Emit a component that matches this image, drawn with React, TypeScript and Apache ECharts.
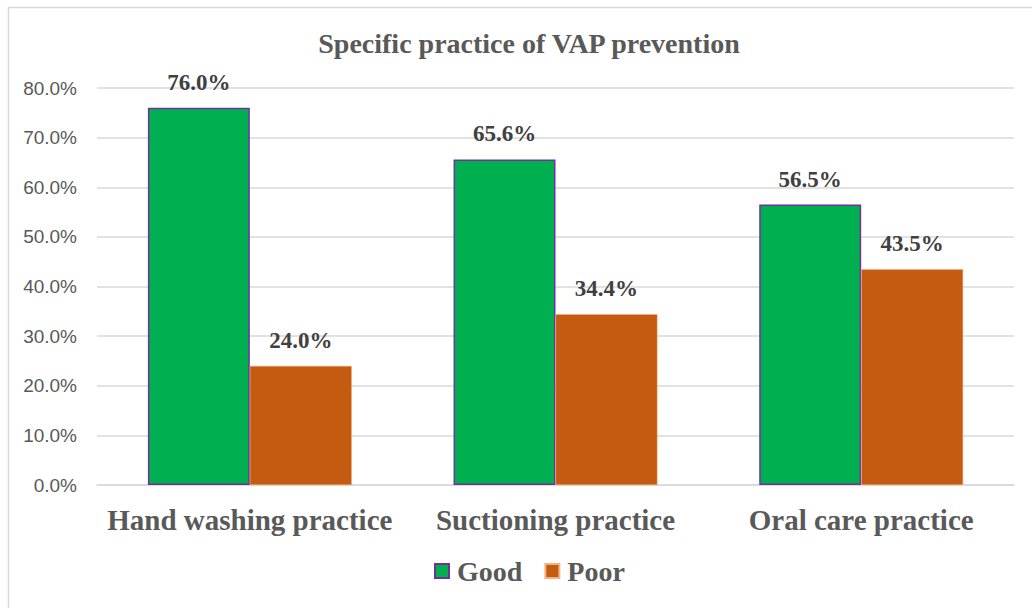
import React, { useEffect, useRef } from "react";
import * as echarts from "echarts";

const categories = ["Hand washing practice", "Suctioning practice", "Oral care practice"];
const goodValues = [76.0, 65.6, 56.5];
const poorValues = [24.0, 34.4, 43.5];
const seriesNames = ["Good", "Poor"];
const titleText = "Specific practice of VAP prevention";

export default function App() {
  const ref = useRef<HTMLDivElement>(null);
  useEffect(() => {
    const chart = echarts.init(ref.current!, null, { renderer: "svg" });
    const serif = "'Liberation Serif', 'Times New Roman', serif";
    const labelStyle = {
      show: true,
      position: "top",
      distance: 14,
      fontFamily: serif,
      fontWeight: "bold",
      fontSize: 23,
      color: "#404040",
      formatter: (p: any) => p.value.toFixed(1) + "%",
    };
    chart.setOption({
      animation: false,
      backgroundColor: "#ffffff",
      graphic: [
        {
          type: "rect",
          shape: { x: 8.5, y: 7.5, width: 1040, height: 620 },
          style: { fill: "none", stroke: "#d9d9d9", lineWidth: 1.5 },
          silent: true,
        },
      ],
      title: {
        text: titleText,
        left: 524,
        textAlign: "center",
        top: 24,
        textStyle: { fontFamily: serif, fontWeight: "bold", fontSize: 28, color: "#595959" },
      },
      legend: {
        data: seriesNames,
        bottom: 18,
        left: 429,
        itemWidth: 14,
        itemHeight: 14,
        itemGap: 22,
        icon: "rect",
        textStyle: {
          fontFamily: serif,
          fontWeight: "bold",
          fontSize: 28,
          color: "#595959",
          padding: [0, 0, 0, 3],
        },
      },
      grid: { left: 97, right: 18, top: 88, bottom: 123, containLabel: false },
      xAxis: {
        type: "category",
        data: categories,
        axisTick: { show: false },
        axisLine: { show: true, lineStyle: { color: "#d9d9d9", width: 1.5 } },
        axisLabel: {
          interval: 0,
          hideOverlap: false,
          margin: 20,
          fontFamily: serif,
          fontWeight: "bold",
          fontSize: 29,
          color: "#595959",
        },
      },
      yAxis: {
        type: "value",
        min: 0,
        max: 80,
        interval: 10,
        axisLine: { show: false },
        axisTick: { show: false },
        splitLine: { lineStyle: { color: "#d9d9d9", width: 1.5 } },
        axisLabel: {
          margin: 20,
          fontFamily: "'Liberation Sans', Arial, sans-serif",
          fontSize: 19,
          color: "#595959",
          formatter: (v: number) => v.toFixed(1) + "%",
        },
      },
      series: [
        {
          name: seriesNames[0],
          type: "bar",
          data: goodValues,
          barGap: "0%",
          barCategoryGap: "33.3%",
          itemStyle: { color: "#00B050", borderColor: "#7030A0", borderWidth: 1.5 },
          label: labelStyle,
        },
        {
          name: seriesNames[1],
          type: "bar",
          data: poorValues,
          barGap: "0%",
          barCategoryGap: "33.3%",
          itemStyle: { color: "#C55A11", borderColor: "#F4B183", borderWidth: 0.5 },
          label: labelStyle,
        },
      ],
    });
    return () => chart.dispose();
  }, []);
  return (
    <div
      ref={ref}
      style={{ position: "fixed", left: 0, top: 0, width: 1032, height: 608 }}
    />
  );
}
